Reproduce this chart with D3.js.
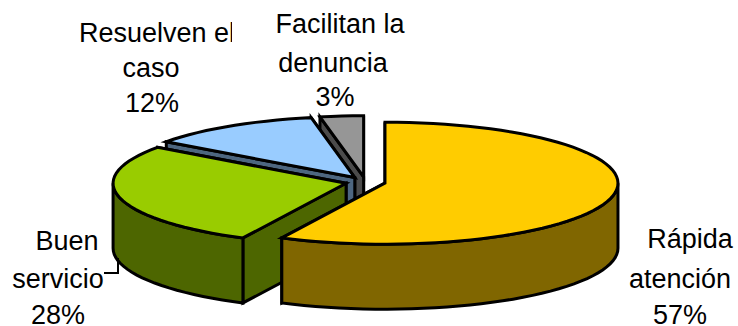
<!DOCTYPE html>
<html>
<head>
<meta charset="utf-8">
<script src="https://cdn.jsdelivr.net/npm/d3@7"></script>
<style>
  html, body { margin: 0; padding: 0; background: #fff; overflow: hidden; }
  svg { display: block; }
  text { font-family: "Liberation Sans", Arial, sans-serif; font-size: 27px; fill: #000; }
</style>
</head>
<body>
<div id="chart"></div>
<script>
// Datos del gráfico
const categories = ["Rápida atención", "Buen servicio", "Resuelven el caso", "Facilitan la denuncia"];
const values = [57.3, 27.7, 12, 3];
const topColors = ["#FFCC00", "#99CC00", "#99CCFF", "#969696"];
const sideColors = ["#806600", "#4D6600", "#4D6680", "#4B4B4B"];

// Texto de cada etiqueta, línea por línea
const labelLines = [
    ["Rápida", "atención", "57%"],
    ["Buen", "servicio", "28%"],
    ["Resuelven el", "caso", "12%"],
    ["Facilitan la", "denuncia", "3%"]
];

const width = 738;
const height = 326;
const cx = 365.5, cy = 182;
const rx = 233, ry = 61;
const depth = 65;
const explode = 20;

const svg = d3.select("#chart").append("svg")
    .attr("width", width)
    .attr("height", height);

svg.append("clipPath").attr("id", "clipResuelven")
    .append("rect").attr("x", 0).attr("y", 0).attr("width", 232).attr("height", 120);

// Ángulos de los sectores, en sentido horario desde las 12
const pie = d3.pie().sort(null).value(d => d.value);
const arcs = pie(categories.map((name, i) => ({ name, value: values[i], index: i })));

// Proyección del disco inclinado
const px = a => Math.sin(a) * rx;
const py = a => -Math.cos(a) * ry;
const line = d3.line();

function arcPoints(c, a0, a1, dy) {
    const n = Math.max(2, Math.ceil((a1 - a0) / (Math.PI / 60)));
    return d3.range(n + 1).map(k => {
        const a = a0 + (a1 - a0) * k / n;
        return [c[0] + px(a), c[1] + py(a) + dy];
    });
}

// Se dibuja de atrás hacia adelante
const order = [3, 2, 1, 0];

order.forEach(i => {
    const d = arcs[i];
    const mid = (d.startAngle + d.endAngle) / 2;
    const c = [cx + explode * Math.sin(mid), cy - explode * Math.cos(mid) * ry / rx];
    const g = svg.append("g")
        .attr("stroke", "#000")
        .attr("stroke-width", 3)
        .attr("stroke-linejoin", "miter");

    // Paredes radiales (la oculta primero)
    [d.endAngle, d.startAngle].forEach(a => {
        const e = [c[0] + px(a), c[1] + py(a)];
        g.append("path")
            .attr("fill", sideColors[i])
            .attr("d", line([c, e, [e[0], e[1] + depth], [c[0], c[1] + depth]]) + "Z");
    });

    // Pared exterior, solo la mitad delantera
    const a0 = Math.max(d.startAngle, Math.PI / 2);
    const a1 = Math.min(d.endAngle, Math.PI * 3 / 2);
    if (a1 > a0) {
        const upper = arcPoints(c, a0, a1, 0);
        const lower = arcPoints(c, a0, a1, depth).reverse();
        g.append("path")
            .attr("fill", sideColors[i])
            .attr("d", line(upper.concat(lower)) + "Z");
    }

    // Cara superior
    g.append("path")
        .attr("fill", topColors[i])
        .attr("d", line([c].concat(arcPoints(c, d.startAngle, d.endAngle, 0))) + "Z");
});

// Línea guía de "Buen servicio"
svg.append("path")
    .attr("fill", "none")
    .attr("stroke", "#000")
    .attr("stroke-width", 2)
    .attr("d", line([[104, 273], [118, 273], [118, 258]]));

// Etiquetas
const labelBox = [
    { xs: [690, 680, 680], ys: [248, 288, 324] },
    { xs: [67, 58, 58], ys: [250, 288, 324] },
    { xs: [157, 151, 152], ys: [42, 77, 112] },
    { xs: [340, 333, 335], ys: [33, 72, 106] }
];

labelLines.forEach((lines, i) => {
    const t = svg.append("g")
        .attr("text-anchor", "middle")
        .attr("clip-path", i === 2 ? "url(#clipResuelven)" : null);
    lines.forEach((s, j) => {
        t.append("text")
            .attr("x", labelBox[i].xs[j])
            .attr("y", labelBox[i].ys[j])
            .text(s);
    });
});
</script>
</body>
</html>
